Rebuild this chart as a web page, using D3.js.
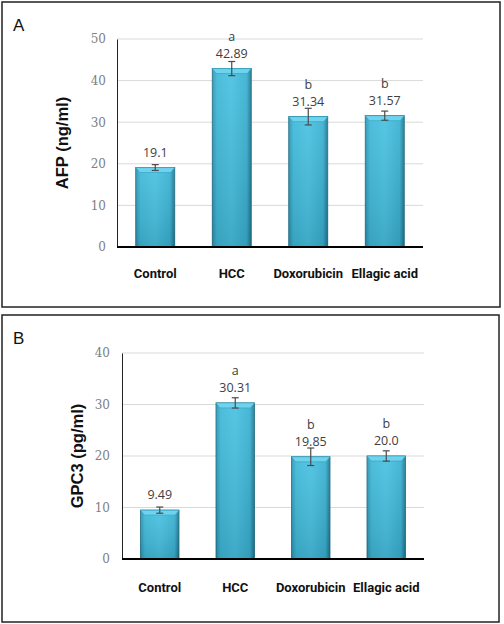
<!DOCTYPE html>
<html><head><meta charset="utf-8">
<script src="https://cdn.jsdelivr.net/npm/d3@7"></script>
<style>body{margin:0;background:#fff}svg{display:block}</style>
</head><body>
<script>
const categories = ["Control", "HCC", "Doxorubicin", "Ellagic acid"];
const afpValues = [19.1, 42.89, 31.34, 31.57];
const afpErrors = [0.7, 1.7, 2.0, 1.1];
const afpLetters = ["", "a", "b", "b"];
const afpTicks = [0, 10, 20, 30, 40, 50];
const gpcValues = [9.49, 30.31, 19.85, 20.0];
const gpcErrors = [0.6, 1.0, 1.7, 1.0];
const gpcLetters = ["", "a", "b", "b"];
const gpcTicks = [0, 10, 20, 30, 40];
const afpLabels = ["19.1", "42.89", "31.34", "31.57"];
const gpcLabels = ["9.49", "30.31", "19.85", "20.0"];

const svg = d3.select("body").append("svg").attr("width", 504).attr("height", 624);
const defs = svg.append("defs");
const grad = defs.append("linearGradient").attr("id", "barGrad").attr("x1", "0").attr("x2", "1").attr("y1", "0").attr("y2", "0");
grad.append("stop").attr("offset", "0%").attr("stop-color", "#2a93b2");
grad.append("stop").attr("offset", "12%").attr("stop-color", "#3eb8d8");
grad.append("stop").attr("offset", "50%").attr("stop-color", "#47c1e1");
grad.append("stop").attr("offset", "88%").attr("stop-color", "#38b0d1");
grad.append("stop").attr("offset", "100%").attr("stop-color", "#1f7590");
const vgrad = defs.append("linearGradient").attr("id", "shade").attr("x1", "0").attr("x2", "0").attr("y1", "0").attr("y2", "1");
vgrad.append("stop").attr("offset", "0%").attr("stop-color", "#ffffff").attr("stop-opacity", 0.08);
vgrad.append("stop").attr("offset", "100%").attr("stop-color", "#000000").attr("stop-opacity", 0.12);

function panel(cfg) {
  const g = svg.append("g");
  g.append("rect").attr("x", cfg.box[0]).attr("y", cfg.box[1]).attr("width", cfg.box[2]).attr("height", cfg.box[3])
    .attr("fill", "#fff").attr("stroke", "#222").attr("stroke-width", 1.5);
  g.append("text").attr("x", cfg.box[0] + 11).attr("y", cfg.box[1] + 29).text(cfg.letter)
    .attr("font-family", "'Liberation Sans', Arial, sans-serif").attr("font-size", 17).attr("fill", "#111");

  const y = d3.scaleLinear().domain([0, cfg.max]).range([cfg.y0, cfg.y1]);
  const x = d3.scaleBand().domain(categories).range([cfg.x0, cfg.x1]).paddingInner(0.49).paddingOuter(0.245);

  g.selectAll(".grid").data(cfg.ticks.filter(t => t > 0)).enter().append("line")
    .attr("x1", cfg.x0).attr("x2", cfg.x1).attr("y1", d => y(d)).attr("y2", d => y(d))
    .attr("stroke", "#d9d9d9").attr("stroke-width", 1);

  const yAxis = d3.axisLeft(y).tickValues(cfg.ticks).tickSize(0).tickPadding(cfg.tickPad);
  const ya = g.append("g").attr("transform", `translate(${cfg.x0},0)`).call(yAxis)
    .attr("font-family", "'DejaVu Serif', 'Liberation Serif', serif").attr("font-size", 12);
  ya.select(".domain").attr("stroke", "#222").attr("stroke-width", 1);
  ya.selectAll("text").attr("fill", "#808080");

  const bars = g.selectAll(".bar").data(cfg.values).enter().append("g");
  bars.append("rect").attr("x", (d, i) => x(categories[i])).attr("y", d => y(d))
    .attr("width", x.bandwidth()).attr("height", d => cfg.y0 - y(d))
    .attr("fill", "url(#barGrad)").attr("stroke", "#1d6a80").attr("stroke-width", 0.8);
  bars.append("rect").attr("x", (d, i) => x(categories[i])).attr("y", d => y(d))
    .attr("width", x.bandwidth()).attr("height", d => cfg.y0 - y(d))
    .attr("fill", "url(#shade)");
  bars.append("polygon").attr("points", (d, i) => {
    const a = x(categories[i]), b = a + x.bandwidth(), t = y(d);
    return `${a},${t} ${b},${t} ${b - 4},${t + 5} ${a + 4},${t + 5}`;
  }).attr("fill", "#6fd3ee").attr("stroke", "#2b9fbf").attr("stroke-width", 0.6);

  g.append("line").attr("x1", cfg.x0).attr("x2", cfg.x1).attr("y1", cfg.y0).attr("y2", cfg.y0)
    .attr("stroke", "#000").attr("stroke-width", 2.2);

  cfg.values.forEach((v, i) => {
    const cx = x(categories[i]) + x.bandwidth() / 2;
    const e = cfg.errors[i];
    const eg = g.append("g").attr("stroke", "#4a4a4a").attr("stroke-width", 1.2);
    eg.append("line").attr("x1", cx).attr("x2", cx).attr("y1", y(v + e)).attr("y2", y(v - e));
    eg.append("line").attr("x1", cx - 3.5).attr("x2", cx + 3.5).attr("y1", y(v + e)).attr("y2", y(v + e));
    eg.append("line").attr("x1", cx - 3.5).attr("x2", cx + 3.5).attr("y1", y(v - e)).attr("y2", y(v - e));
    g.append("text").attr("x", cx).attr("y", y(v) - 11).attr("text-anchor", "middle")
      .attr("font-family", "'Open Sans', 'DejaVu Sans', sans-serif").attr("font-size", 12.5).attr("fill", "#404040")
      .text(cfg.labels[i]);
    if (cfg.letters[i]) g.append("text").attr("x", cx).attr("y", y(v) - 28).attr("text-anchor", "middle")
      .attr("font-family", "'Open Sans', 'DejaVu Sans', sans-serif").attr("font-size", 12.5).attr("fill", "#404040")
      .text(cfg.letters[i]);
  });

  g.selectAll(".cat").data(categories).enter().append("text")
    .attr("x", d => x(d) + x.bandwidth() / 2).attr("y", cfg.catY).attr("text-anchor", "middle")
    .attr("font-family", "Roboto, 'Liberation Sans', sans-serif").attr("font-weight", "bold")
    .attr("font-size", 13).attr("fill", "#111").text(d => d);

  g.append("text").attr("transform", `translate(${cfg.titleX},${(cfg.y0 + cfg.y1) / 2}) rotate(-90)`)
    .attr("text-anchor", "middle").attr("font-family", "'Liberation Sans', Arial, sans-serif").attr("font-weight", "bold")
    .attr("font-size", 16.5).attr("fill", "#111").text(cfg.title);
}

panel({box: [2, 2, 498, 305], letter: "A", values: afpValues, errors: afpErrors, letters: afpLetters, labels: afpLabels,
  ticks: afpTicks, max: 50, x0: 117, x1: 423, y0: 247, y1: 39, tickPad: 11, catY: 278, titleX: 68, title: "AFP (ng/ml)"});
panel({box: [2, 315, 497, 307], letter: "B", values: gpcValues, errors: gpcErrors, letters: gpcLetters, labels: gpcLabels,
  ticks: gpcTicks, max: 40, x0: 122, x1: 424, y0: 559, y1: 353, tickPad: 12, catY: 592, titleX: 83, title: "GPC3 (pg/ml)"});
</script>
</body></html>
